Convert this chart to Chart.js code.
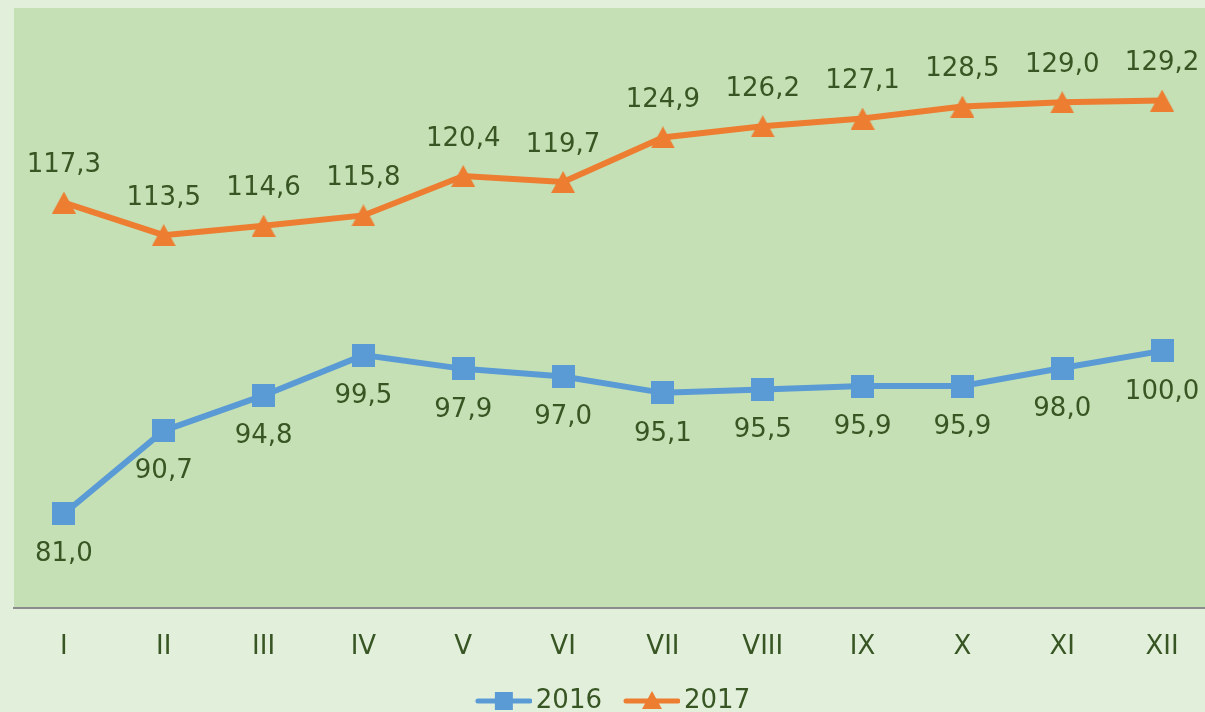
<!DOCTYPE html>
<html>
<head>
<meta charset="utf-8">
<script src="https://cdn.jsdelivr.net/npm/chart.js@4/dist/chart.umd.min.js"></script>
<style>
html, body { margin: 0; padding: 0; overflow: hidden; background: #e2efda; }
#wrap { width: 1212px; height: 712px; }
</style>
</head>
<body>
<div id="wrap"><canvas id="chart" width="1212" height="712"></canvas></div>
<script>
// months, roman numerals
var months = ["I", "II", "III", "IV", "V", "VI", "VII", "VIII", "IX", "X", "XI", "XII"];
var series2016 = [81.0, 90.7, 94.8, 99.5, 97.9, 97.0, 95.1, 95.5, 95.9, 95.9, 98.0, 100.0];
var series2017 = [117.3, 113.5, 114.6, 115.8, 120.4, 119.7, 124.9, 126.2, 127.1, 128.5, 129.0, 129.2];

var BLUE = "#5b9bd5";
var ORANGE = "#ed7d31";
var TEXT = "#375623";
var FONT = "DejaVu Sans";

function draw_shape(ctx, shape, cx, cy, w, h)
{
    if (shape == "rect") {
	ctx.fillRect(cx - w / 2, cy - h / 2, w, h);
    } else {
	ctx.beginPath();
	ctx.moveTo(cx, cy - h / 2);
	ctx.lineTo(cx + w / 2, cy + h / 2);
	ctx.lineTo(cx - w / 2, cy + h / 2);
	ctx.closePath();
	ctx.fill();
    }
}

// marker on the data points, centred on its box
function point_icon(color, shape, w, h)
{
    var c = document.createElement("canvas");
    c.width = w;
    c.height = h;
    var ctx = c.getContext("2d");
    ctx.fillStyle = color;
    draw_shape(ctx, shape, w / 2, h / 2, w, h);
    return c;
}

// legend marker: line with the point style in the middle
function legend_icon(color, shape)
{
    var c = document.createElement("canvas");
    c.width = 65;
    c.height = 26;
    var ctx = c.getContext("2d");
    ctx.strokeStyle = color;
    ctx.lineWidth = 5;
    ctx.lineCap = "round";
    ctx.beginPath();
    ctx.moveTo(11, 13);
    ctx.lineTo(63, 13);
    ctx.stroke();
    ctx.fillStyle = color;
    if (shape == "rect")
	draw_shape(ctx, shape, 37, 13, 18, 18);
    else
	draw_shape(ctx, shape, 37, 12, 20, 18);
    return c;
}

var bgPlugin = {
    id: "bg",
    beforeDraw: function(chart) {
	var ctx = chart.ctx, a = chart.chartArea;
	ctx.save();
	ctx.fillStyle = "#e2efda";
	ctx.fillRect(0, 0, chart.width, chart.height);
	ctx.fillStyle = "#c5e0b4";
	ctx.fillRect(a.left, a.top, a.right - a.left, a.bottom - a.top);
	ctx.restore();
    }
};

var valuePlugin = {
    id: "values",
    afterDatasetsDraw: function(chart) {
	var ctx = chart.ctx;
	ctx.save();
	ctx.font = "26px '" + FONT + "'";
	ctx.fillStyle = TEXT;
	ctx.textAlign = "center";
	ctx.textBaseline = "middle";
	chart.data.datasets.forEach(function(ds, i) {
	    var meta = chart.getDatasetMeta(i);
	    var off = ds.labelOffset;
	    meta.data.forEach(function(pt, j) {
		var txt = ds.data[j].toFixed(1).replace(".", ",");
		ctx.fillText(txt, pt.x, pt.y + off);
	    });
	});
	ctx.restore();
    }
};

new Chart(document.getElementById("chart"), {
    type: "line",
    data: {
	labels: months,
	datasets: [{
	    label: "2016",
	    data: series2016,
	    borderColor: BLUE,
	    backgroundColor: BLUE,
	    borderWidth: 6,
	    pointStyle: point_icon(BLUE, "rect", 23, 23),
	    pointRadius: 12,
	    pointBorderWidth: 0,
	    tension: 0,
	    labelOffset: 41,
	    legendIcon: legend_icon(BLUE, "rect")
	}, {
	    label: "2017",
	    data: series2017,
	    borderColor: ORANGE,
	    backgroundColor: ORANGE,
	    borderWidth: 6,
	    pointStyle: point_icon(ORANGE, "triangle", 24, 22),
	    pointRadius: 12,
	    pointBorderWidth: 0,
	    tension: 0,
	    labelOffset: -37,
	    legendIcon: legend_icon(ORANGE, "triangle")
	}]
    },
    options: {
	responsive: false,
	animation: false,
	devicePixelRatio: 1,
	layout: {
	    autoPadding: false,
	    padding: { left: 14, right: 0, top: 8, bottom: -12 }
	},
	scales: {
	    x: {
		offset: true,
		grid: { display: false, drawTicks: false },
		border: { display: true, color: "#8c8c8c", width: 2 },
		ticks: {
		    color: TEXT,
		    padding: 24,
		    font: { family: FONT, size: 26 }
		},
		afterFit: function(scale) { scale.height = 58; }
	    },
	    y: {
		display: false,
		min: 70,
		max: 140
	    }
	},
	plugins: {
	    tooltip: { enabled: false },
	    legend: {
		position: "bottom",
		labels: {
		    color: TEXT,
		    font: { family: FONT, size: 26 },
		    usePointStyle: true,
		    pointStyleWidth: 47,
		    padding: 22,
		    generateLabels: function(chart) {
			return chart.data.datasets.map(function(ds, i) {
			    return {
				text: ds.label,
				pointStyle: ds.legendIcon,
				fillStyle: ds.borderColor,
				strokeStyle: ds.borderColor,
				lineWidth: 0,
				fontColor: TEXT,
				hidden: false,
				datasetIndex: i
			    };
			});
		    }
		}
	    }
	}
    },
    plugins: [bgPlugin, valuePlugin]
});
</script>
</body>
</html>
